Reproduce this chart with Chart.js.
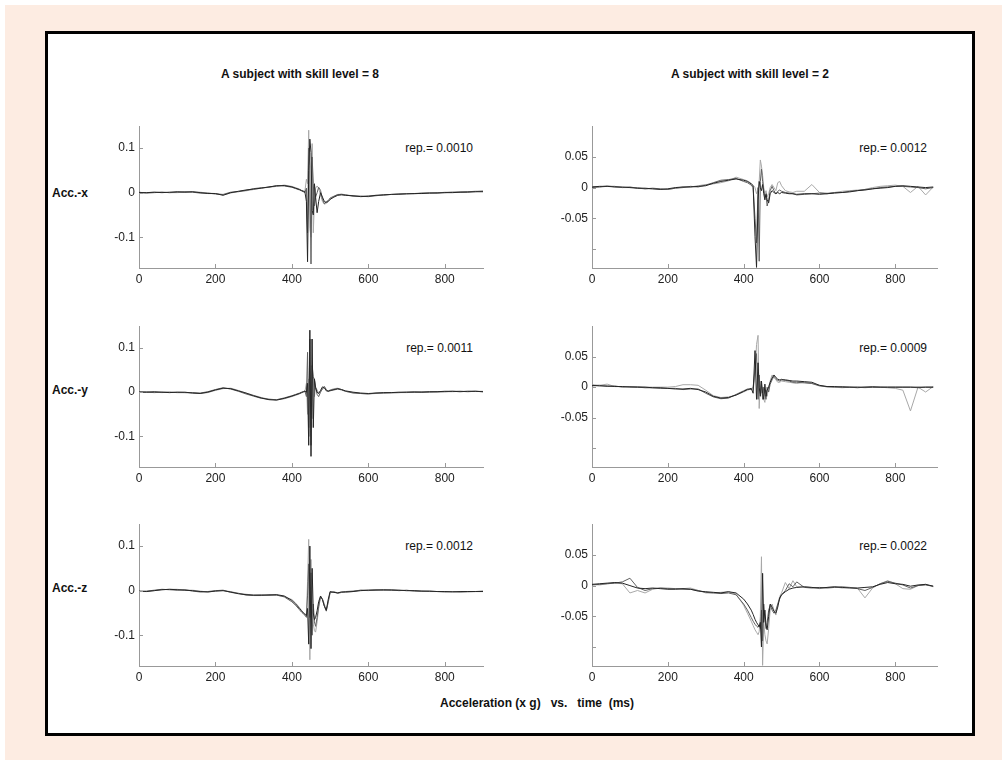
<!DOCTYPE html>
<html><head><meta charset="utf-8">
<script src="https://cdn.jsdelivr.net/npm/chart.js@4.4.0/dist/chart.umd.min.js"></script>
<style>
html,body{margin:0;padding:0;background:#fff;}
body{width:1002px;height:760px;position:relative;overflow:hidden;font-family:'Liberation Sans',Arial,sans-serif;}
#bg{position:absolute;left:5px;top:5px;width:997px;height:755px;background:#fdece2;}
#frame{position:absolute;left:45px;top:31px;width:924px;height:699px;border:3px solid #000;background:#fff;}
.t{position:absolute;white-space:pre;font-size:12px;line-height:14px;color:#111;}
.b{font-weight:bold;}
canvas{position:absolute;}
</style></head>
<body>
<div id="bg"></div>
<div id="frame"></div>
<div class="t b" style="left:200px;top:67px;width:200px;text-align:center;">A subject with skill level = 8</div>
<div class="t b" style="left:650px;top:67px;width:200px;text-align:center;">A subject with skill level = 2</div>
<div class="t b" style="left:52px;top:186px;">Acc.-x</div>
<div class="t b" style="left:52px;top:383px;">Acc.-y</div>
<div class="t b" style="left:52px;top:581px;">Acc.-z</div>
<div class="t" style="left:373px;top:141px;width:100px;text-align:right;">rep.= 0.0010</div>
<div class="t" style="left:373px;top:341px;width:100px;text-align:right;">rep.= 0.0011</div>
<div class="t" style="left:373px;top:539px;width:100px;text-align:right;">rep.= 0.0012</div>
<div class="t" style="left:827px;top:141px;width:100px;text-align:right;">rep.= 0.0012</div>
<div class="t" style="left:827px;top:341px;width:100px;text-align:right;">rep.= 0.0009</div>
<div class="t" style="left:827px;top:539px;width:100px;text-align:right;">rep.= 0.0022</div>
<div class="t b" style="left:337px;top:696px;width:400px;text-align:center;">Acceleration (x g)   vs.   time  (ms)</div>
<script>
// time samples (ms)
const T = [0,20,40,60,80,100,120,140,160,180,200,220,240,260,280,300,320,340,360,380,400,
  410,420,425,430,434,438,441,444,447,450,453,456,459,462,466,470,475,480,485,490,495,500,510,520,530,540,
  560,580,600,620,640,660,680,700,720,740,760,780,800,820,840,860,880,900];

// skill 8, Acc.-x (three repetitions)
const X8_A = [0,0,0.001,0,0.001,0.002,0.001,0.002,0,-0.002,-0.002,-0.006,0,0.003,0.006,0.008,0.01,0.013,0.015,0.016,0.013,
  0.01,0.007,0.005,0.003,0.002,-0.02,-0.155,0.05,0.12,0.09,-0.04,-0.05,0.02,-0.01,-0.045,-0.02,0,-0.01,-0.02,-0.022,-0.02,-0.015,-0.01,-0.006,-0.005,-0.006,
  -0.007,-0.009,-0.008,-0.006,-0.005,-0.004,-0.003,-0.003,-0.002,-0.002,-0.001,-0.001,0,0,0.001,0.001,0.002,0.002];
const X8_B = [0.001,-0.001,0,0.001,0,0.001,0.002,0.001,-0.001,-0.001,-0.003,-0.004,0.001,0.002,0.005,0.009,0.011,0.012,0.016,0.015,0.012,
  0.009,0.006,0.004,0.002,0,0.01,-0.09,0.1,0.06,-0.16,0.08,0.02,-0.03,-0.01,0,0.012,0.005,-0.015,-0.025,-0.02,-0.018,-0.012,-0.008,-0.004,-0.004,-0.005,
  -0.008,-0.008,-0.009,-0.007,-0.005,-0.004,-0.004,-0.002,-0.002,-0.001,-0.001,0,0,0.001,0.001,0.002,0.003,0.003];
const X8_C = [-0.001,0,0.001,0.001,0,0,0.001,0.002,0.001,-0.001,-0.002,-0.005,-0.001,0.003,0.004,0.007,0.01,0.012,0.014,0.017,0.014,
  0.011,0.008,0.005,0.004,0.003,0.03,0.02,0.14,-0.08,-0.1,0.11,-0.09,-0.02,0.01,0.015,0.01,-0.005,-0.02,-0.026,-0.024,-0.02,-0.015,-0.009,-0.005,-0.003,-0.005,
  -0.007,-0.008,-0.007,-0.006,-0.006,-0.004,-0.003,-0.002,-0.003,-0.001,0,-0.001,0.001,0.001,0.002,0.002,0.002,0.004];

// skill 8, Acc.-y
const Y8_A = [0,0,0.001,0,-0.001,0,0,-0.002,-0.003,0,0.005,0.009,0.008,0.003,-0.002,-0.008,-0.013,-0.017,-0.018,-0.014,-0.009,
  -0.006,-0.003,-0.001,0.001,0.002,0,0.02,-0.12,0.14,-0.145,0.12,-0.08,0.03,0.01,0,-0.003,0.004,0.012,0.01,0.003,0.002,0.004,0.006,0.008,0.006,0.003,
  0,-0.002,-0.003,-0.002,-0.001,-0.001,0,0,0,0,0.001,0.001,0.002,0.002,0.001,0.002,0.002,0.001];
const Y8_B = [0.001,0,-0.001,0,0,-0.001,-0.001,-0.001,-0.002,0.001,0.006,0.01,0.007,0.002,-0.004,-0.009,-0.014,-0.016,-0.017,-0.013,-0.008,
  -0.005,-0.002,0,0.001,0.003,-0.01,0.09,-0.08,0.12,-0.12,0.06,0.035,0.028,0.01,-0.005,-0.01,0,0.008,0.013,0.006,0.002,0.003,0.005,0.007,0.005,0.002,
  -0.002,-0.003,-0.004,-0.002,-0.002,-0.001,-0.001,0,0.001,0,0,0.001,0.001,0.002,0.002,0.001,0.002,0.001];
const Y8_C = [0,0.001,0,-0.001,0,0,-0.001,-0.002,-0.003,-0.001,0.004,0.008,0.009,0.004,-0.002,-0.007,-0.012,-0.016,-0.017,-0.015,-0.01,
  -0.007,-0.004,-0.002,0,0.001,0.02,-0.05,0.03,-0.1,0.12,-0.06,0.035,-0.01,0.012,0.005,-0.002,0.002,0.007,0.009,0.005,0.003,0.005,0.008,0.009,0.006,0.002,
  -0.001,-0.003,-0.004,-0.003,-0.002,-0.002,-0.001,-0.001,0,0.001,0.001,0,0.001,0.001,0.002,0.002,0.002,0.002];

// skill 8, Acc.-z
const Z8_A = [-0.001,-0.002,0,0.002,0.003,0.002,0.001,0,-0.002,-0.003,-0.001,0,-0.003,-0.007,-0.009,-0.01,-0.01,-0.01,-0.009,-0.012,-0.022,
  -0.03,-0.04,-0.045,-0.05,-0.053,-0.056,-0.04,-0.12,0.1,-0.13,0.05,-0.05,-0.065,-0.06,-0.045,-0.025,-0.012,-0.02,-0.035,-0.044,-0.02,-0.002,-0.004,-0.005,-0.003,-0.003,
  -0.002,0,0.001,0.001,0.002,0.001,0.001,0,0,-0.001,-0.001,-0.002,-0.002,-0.003,-0.002,-0.002,-0.002,-0.002];
const Z8_B = [-0.002,-0.001,0.001,0.003,0.002,0.001,0.002,-0.001,-0.003,-0.002,0,0.001,-0.004,-0.006,-0.01,-0.011,-0.011,-0.009,-0.01,-0.014,-0.025,
  -0.033,-0.043,-0.048,-0.052,-0.055,-0.06,-0.01,0.06,-0.06,0.04,-0.1,-0.03,-0.07,-0.08,-0.06,-0.035,-0.013,-0.02,-0.035,-0.046,-0.025,-0.004,-0.003,-0.006,-0.004,-0.002,
  -0.001,0.001,0.001,0.002,0.001,0.002,0,0.001,-0.001,-0.001,-0.002,-0.002,-0.003,-0.002,-0.003,-0.002,-0.002,-0.001];
const Z8_C = [-0.002,-0.002,0,0.002,0.003,0.003,0.001,0.001,-0.001,-0.003,-0.001,0,-0.002,-0.006,-0.008,-0.01,-0.009,-0.011,-0.01,-0.013,-0.02,
  -0.028,-0.038,-0.044,-0.05,-0.052,-0.054,0.02,0.115,-0.155,0.07,-0.04,-0.075,-0.09,-0.093,-0.07,-0.04,-0.015,-0.018,-0.03,-0.043,-0.028,-0.005,-0.002,-0.005,-0.003,-0.004,
  -0.002,0.001,0,0.002,0.001,0.002,0.001,0,0,-0.002,-0.001,-0.002,-0.002,-0.002,-0.003,-0.003,-0.002,-0.002];

// skill 2, Acc.-x
const X2_A = [0.001,0.002,0.002,0.001,0.001,0,-0.001,-0.001,-0.002,-0.003,-0.002,0,0.001,0.001,0.002,0.003,0.007,0.01,0.012,0.014,0.012,
  0.01,0.006,0.003,-0.08,-0.13,-0.02,0.01,0,-0.005,0.005,-0.01,-0.02,-0.01,-0.02,-0.025,-0.01,-0.005,-0.008,-0.01,-0.008,-0.01,-0.008,-0.009,-0.01,-0.01,-0.011,
  -0.01,-0.01,-0.011,-0.01,-0.009,-0.008,-0.007,-0.005,-0.004,-0.002,-0.001,0,0.002,0.003,0.002,0.001,0,0.001];
const X2_B = [0,0.001,0.002,0.002,0,0.001,-0.001,-0.002,-0.001,-0.002,-0.003,-0.001,0,0.002,0.001,0.004,0.008,0.012,0.013,0.015,0.01,
  0.008,0.004,0,-0.05,-0.09,0,-0.12,0.01,0.03,0.01,-0.005,-0.015,-0.012,-0.03,-0.02,-0.005,0.002,-0.005,-0.01,-0.006,-0.004,-0.006,-0.008,-0.009,-0.01,-0.012,
  -0.011,-0.01,-0.009,-0.01,-0.008,-0.008,-0.006,-0.005,-0.003,-0.002,0,0.001,0.002,0.002,0.001,0,-0.002,0];
const X2_C = [0.002,0.001,0.003,0.001,0,0,0,-0.002,-0.002,-0.003,-0.003,-0.001,0.001,0.001,0.003,0.005,0.006,0.008,0.011,0.017,0.013,
  0.011,0.007,0.004,0,-0.01,-0.005,0.01,0.045,0.035,0.02,0,-0.01,-0.005,-0.015,-0.01,0,0.005,0,-0.005,0.008,0.01,0.003,-0.005,-0.007,-0.008,-0.006,
  -0.006,0.005,-0.008,-0.009,-0.008,-0.006,-0.005,-0.004,-0.003,0,0.002,0.003,0.004,0.002,-0.008,0.002,-0.012,0.001];

// skill 2, Acc.-y
const Y2_A = [0.003,0.002,0.002,0.001,0.001,0,0,0,-0.001,-0.001,-0.002,-0.003,-0.003,-0.002,-0.004,-0.008,-0.015,-0.018,-0.017,-0.013,-0.007,
  -0.004,-0.002,-0.01,0.06,-0.02,0.04,0,-0.015,0.01,-0.01,-0.02,0.005,-0.015,-0.005,0,0.008,0.015,0.02,0.016,0.013,0.012,0.012,0.012,0.011,0.01,0.01,
  0.009,0.008,0.003,0.001,0.001,0,0,0,0,0,0,0,0,0,0,0,0,0];
const Y2_B = [0.002,0.003,0.001,0.002,0,0.001,0,-0.001,-0.001,-0.002,-0.002,-0.002,-0.004,-0.003,-0.003,-0.01,-0.016,-0.019,-0.018,-0.012,-0.006,
  -0.003,-0.004,0,0.03,0.055,-0.02,0.02,-0.01,0.005,-0.02,0,-0.012,-0.02,0,-0.008,0.005,0.012,0.018,0.014,0.011,0.01,0.013,0.011,0.01,0.008,0.008,
  0.007,0.006,0.002,0.001,0,0.001,0,-0.001,0,0.001,0,0,0,0,0,-0.001,0,0];
const Y2_C = [0.004,0.003,0.005,0.001,0.001,0.001,0.001,0,0,0,0,0.001,0.004,0.004,0.003,-0.005,-0.014,-0.017,-0.016,-0.013,-0.008,
  -0.005,-0.003,-0.005,0.02,0.07,0.085,-0.035,0.01,-0.01,0,-0.02,-0.025,-0.005,-0.015,0,0.01,0.02,0.016,0.012,0.008,0.008,0.01,0.009,0.008,0.007,0.006,
  0.008,0.006,0.003,0,0,-0.001,0,0,-0.001,0,0,-0.001,-0.002,-0.005,-0.039,0,-0.008,0.001];

// skill 2, Acc.-z
const Z2_A = [0.002,0.003,0.004,0.005,0.004,0,-0.004,-0.005,-0.004,-0.005,-0.006,-0.006,-0.005,-0.006,-0.009,-0.01,-0.011,-0.012,-0.01,-0.012,-0.022,
  -0.03,-0.04,-0.047,-0.055,-0.06,-0.064,-0.067,-0.06,-0.1,0.02,-0.06,-0.04,-0.065,-0.072,-0.05,-0.03,-0.035,-0.042,-0.045,-0.035,-0.02,-0.015,-0.01,-0.006,-0.004,-0.003,
  -0.002,-0.003,-0.004,-0.003,-0.002,-0.003,-0.004,-0.004,-0.003,-0.002,0.002,0.005,0.003,0.002,-0.001,0.001,0.002,-0.001];
const Z2_B = [0.001,0.002,0.003,0.004,0.006,0.012,-0.003,-0.008,-0.005,-0.004,-0.005,-0.005,-0.006,-0.006,-0.008,-0.011,-0.012,-0.013,-0.012,-0.015,-0.03,
  -0.04,-0.052,-0.058,-0.063,-0.066,-0.068,-0.065,-0.07,-0.04,-0.09,-0.03,-0.05,-0.07,-0.06,-0.04,-0.032,-0.04,-0.045,-0.04,-0.03,-0.022,-0.015,-0.008,0.003,-0.002,0.006,
  -0.003,-0.004,-0.003,-0.004,-0.003,-0.002,-0.003,-0.005,-0.008,-0.003,0.003,0.007,0.004,0.001,-0.004,0,0.001,-0.001];
const Z2_C = [0.002,0.001,0.003,0.004,0.003,-0.012,-0.008,-0.012,-0.006,-0.004,-0.004,-0.005,-0.005,-0.004,-0.008,-0.012,-0.012,-0.011,-0.01,-0.014,-0.032,
  -0.045,-0.058,-0.065,-0.072,-0.076,-0.08,-0.075,-0.05,0.047,-0.13,-0.06,-0.08,-0.09,-0.095,-0.07,-0.04,-0.03,-0.04,-0.048,-0.03,-0.018,-0.012,0.005,-0.005,0.008,-0.002,
  -0.002,-0.003,-0.005,-0.003,-0.002,-0.004,-0.003,-0.004,-0.02,-0.004,0.003,0.008,0.003,-0.005,-0.006,0,0.002,-0.002];

// tick values and labels
const X_TICKS = [0,200,400,600,800];
const LEFT_Y_TICKS = [-0.1,0,0.1];
const LEFT_Y_LABELS = ['-0.1','0','0.1'];
const RIGHT_Y_TICKS = [-0.1,-0.05,0,0.05];
const RIGHT_Y_LABELS = ['','-0.05','0','0.05'];

// styles / layout
const COLORS = ['#262626','#606060','#a8a8a8'];
const FONT = {family:"'Liberation Sans', Arial, sans-serif", size:12};
const LEFT_AX = {left:139, w:344, xMax:900, yMin:-0.169, yMax:0.149, yt:LEFT_Y_TICKS, yl:LEFT_Y_LABELS};
const RIGHT_AX = {left:592, w:345, xMax:910, yMin:-0.131, yMax:0.1, yt:RIGHT_Y_TICKS, yl:RIGHT_Y_LABELS};
const ROWS = [{top:125,h:143},{top:325,h:142},{top:523,h:143}];
const PANELS = [
  {ax:LEFT_AX,row:ROWS[0],series:[X8_A,X8_B,X8_C]},
  {ax:LEFT_AX,row:ROWS[1],series:[Y8_A,Y8_B,Y8_C]},
  {ax:LEFT_AX,row:ROWS[2],series:[Z8_A,Z8_B,Z8_C]},
  {ax:RIGHT_AX,row:ROWS[0],series:[X2_A,X2_B,X2_C]},
  {ax:RIGHT_AX,row:ROWS[1],series:[Y2_A,Y2_B,Y2_C]},
  {ax:RIGHT_AX,row:ROWS[2],series:[Z2_A,Z2_B,Z2_C]}
];

const inwardTicks = {
  id:'inwardTicks',
  afterDraw(chart){
    const {ctx, chartArea:a, scales:{x,y}} = chart;
    ctx.save(); ctx.strokeStyle='#999'; ctx.lineWidth=1; ctx.beginPath();
    x.ticks.forEach(t=>{const px=Math.round(x.getPixelForValue(t.value))+0.5; ctx.moveTo(px,a.bottom); ctx.lineTo(px,a.bottom-4);});
    y.ticks.forEach(t=>{const py=Math.round(y.getPixelForValue(t.value))+0.5; ctx.moveTo(a.left,py); ctx.lineTo(a.left+4,py);});
    ctx.stroke(); ctx.restore();
  }
};

const GRID = {display:false, drawTicks:false, tickLength:0};

PANELS.forEach(p=>{
  const W = p.ax.w + 60, H = p.row.h + 32;
  const c = document.createElement('canvas');
  c.width = W; c.height = H;
  c.style.left = (p.ax.left - 50) + 'px'; c.style.top = (p.row.top - 10) + 'px';
  c.style.width = W + 'px'; c.style.height = H + 'px';
  document.body.appendChild(c);
  new Chart(c, {
    type:'line',
    data:{datasets:p.series.map((s,i)=>({
      data:T.map((t,k)=>({x:t,y:s[k]})),
      borderColor:COLORS[i], borderWidth:1, pointRadius:0, tension:0, fill:false
    }))},
    options:{
      responsive:false, animation:false, devicePixelRatio:1,
      layout:{padding:{left:0,top:10,right:10,bottom:0}},
      plugins:{legend:{display:false},tooltip:{enabled:false}},
      scales:{
        x:{type:'linear',min:0,max:p.ax.xMax,grid:GRID,border:{display:true,color:'#999',width:1},
          afterBuildTicks:s=>{s.ticks=X_TICKS.map(v=>({value:v}));},
          afterFit:s=>{s.height=22;},
          ticks:{padding:4,color:'#222',font:FONT,maxRotation:0,autoSkip:false,callback:v=>String(v)}},
        y:{type:'linear',min:p.ax.yMin,max:p.ax.yMax,grid:GRID,border:{display:true,color:'#999',width:1},
          afterBuildTicks:s=>{s.ticks=p.ax.yt.map(v=>({value:v}));},
          afterFit:s=>{s.width=50;},
          ticks:{padding:4,color:'#222',font:FONT,autoSkip:false,callback:(v,i)=>p.ax.yl[i]}}
      }
    },
    plugins:[inwardTicks]
  });
});
</script>
</body></html>
